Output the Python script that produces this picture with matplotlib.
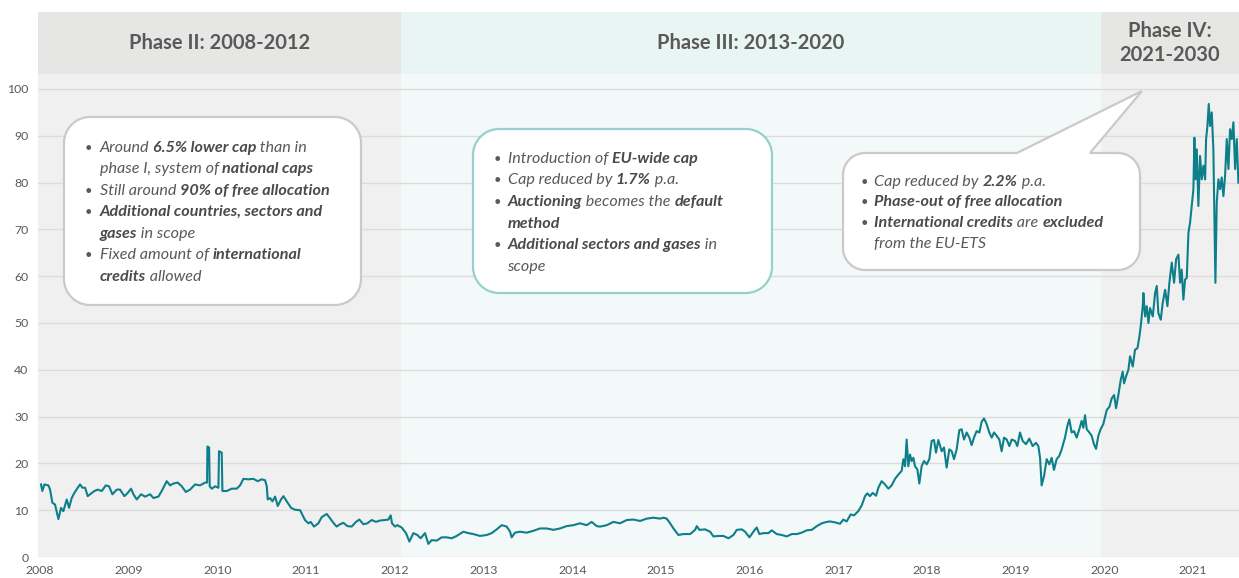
import matplotlib
matplotlib.use("Agg")
import matplotlib.pyplot as plt
from matplotlib.transforms import IdentityTransform
from matplotlib.path import Path
from matplotlib.patches import PathPatch

# ---------------- data ----------------
dates = [
    2008.011, 2008.026, 2008.049, 2008.094, 2008.113, 2008.139, 2008.169, 2008.207, 2008.237, 2008.263,
    2008.301, 2008.327, 2008.357, 2008.387, 2008.425, 2008.451, 2008.478, 2008.508, 2008.538, 2008.564,
    2008.613, 2008.651, 2008.696, 2008.741, 2008.778, 2008.816, 2008.865, 2008.902, 2008.951, 2008.989,
    2009.026, 2009.053, 2009.090, 2009.139, 2009.184, 2009.241, 2009.278, 2009.334, 2009.372, 2009.428,
    2009.466, 2009.504, 2009.552, 2009.598, 2009.643, 2009.691, 2009.748, 2009.804, 2009.861, 2009.883,
    2009.887, 2009.906, 2009.913, 2009.936, 2009.973, 2010.011, 2010.018, 2010.048, 2010.056, 2010.105,
    2010.161, 2010.218, 2010.255, 2010.293, 2010.349, 2010.405, 2010.454, 2010.499, 2010.537, 2010.556,
    2010.567, 2010.593, 2010.620, 2010.650, 2010.680, 2010.717, 2010.744, 2010.781, 2010.830, 2010.875,
    2010.932,
    2010.987, 2011.025, 2011.051, 2011.089, 2011.138, 2011.175, 2011.232, 2011.269, 2011.307, 2011.344,
    2011.382, 2011.420, 2011.465, 2011.513, 2011.562, 2011.600, 2011.645, 2011.690, 2011.739, 2011.788,
    2011.833, 2011.889, 2011.927, 2011.953, 2011.968, 2012.002, 2012.028, 2012.077, 2012.126, 2012.164,
    2012.209, 2012.254, 2012.291, 2012.340, 2012.378, 2012.415, 2012.472, 2012.528, 2012.584, 2012.641,
    2012.697, 2012.772, 2012.829, 2012.885, 2012.960, 2013.035, 2013.092, 2013.148, 2013.205, 2013.261,
    2013.299, 2013.317, 2013.355, 2013.411, 2013.487, 2013.562, 2013.637, 2013.712, 2013.787, 2013.862,
    2013.937, 2014.013, 2014.088, 2014.163, 2014.219, 2014.276,
    2014.314, 2014.389, 2014.464, 2014.539, 2014.614, 2014.690, 2014.765, 2014.840, 2014.915, 2014.990,
    2015.028, 2015.065, 2015.103, 2015.141, 2015.197, 2015.253, 2015.329, 2015.385, 2015.404, 2015.434,
    2015.498, 2015.554, 2015.592, 2015.648, 2015.704, 2015.761, 2015.817, 2015.855, 2015.911, 2015.949,
    2015.998, 2016.042, 2016.080, 2016.110, 2016.155, 2016.212, 2016.249, 2016.306, 2016.362, 2016.418,
    2016.475, 2016.531, 2016.587, 2016.644, 2016.700, 2016.757, 2016.813, 2016.869,
    2016.906, 2016.962, 2017.019, 2017.056, 2017.094, 2017.139, 2017.177, 2017.225, 2017.263, 2017.301,
    2017.327, 2017.357, 2017.387, 2017.425, 2017.451, 2017.488, 2017.526, 2017.564, 2017.601, 2017.639,
    2017.676, 2017.714, 2017.733, 2017.752, 2017.770, 2017.789, 2017.808, 2017.827, 2017.846, 2017.864,
    2017.891, 2017.913, 2017.939, 2017.966, 2017.996, 2018.026, 2018.052, 2018.078, 2018.101, 2018.127,
    2018.165, 2018.191, 2018.221, 2018.251, 2018.278, 2018.304, 2018.334, 2018.364, 2018.390, 2018.417,
    2018.447, 2018.477, 2018.503, 2018.529, 2018.559, 2018.590, 2018.616, 2018.642, 2018.672, 2018.702,
    2018.729, 2018.755, 2018.785, 2018.815, 2018.841, 2018.868, 2018.898, 2018.928, 2018.954, 2018.992,
    2019.018, 2019.048, 2019.078, 2019.116, 2019.153, 2019.191, 2019.228, 2019.255, 2019.274, 2019.292,
    2019.319, 2019.349, 2019.379, 2019.405, 2019.431, 2019.461, 2019.491, 2019.518, 2019.555, 2019.582,
    2019.604, 2019.630, 2019.657, 2019.687, 2019.717, 2019.743, 2019.762, 2019.781, 2019.800, 2019.830,
    2019.856, 2019.882, 2019.905, 2019.931, 2019.957, 2019.987,
    2020.026, 2020.056, 2020.082, 2020.109, 2020.131, 2020.157, 2020.184, 2020.206, 2020.221, 2020.244,
    2020.270, 2020.289, 2020.319, 2020.345, 2020.372, 2020.394, 2020.409, 2020.432, 2020.439, 2020.458,
    2020.477, 2020.496, 2020.514, 2020.545, 2020.571, 2020.590, 2020.608, 2020.635, 2020.657, 2020.684,
    2020.710, 2020.732, 2020.759, 2020.785, 2020.808, 2020.834, 2020.853, 2020.871, 2020.890, 2020.909,
    2020.928, 2020.947, 2020.965, 2020.984, 2021.003, 2021.014, 2021.026, 2021.041, 2021.059, 2021.078,
    2021.097, 2021.116, 2021.135, 2021.146, 2021.161, 2021.176, 2021.191, 2021.210, 2021.228, 2021.240,
    2021.251, 2021.266, 2021.285, 2021.304, 2021.322, 2021.341, 2021.360, 2021.379, 2021.398, 2021.416,
    2021.435, 2021.454, 2021.473, 2021.492, 2021.510,
]
price = [
    15.5, 14.1, 15.5, 15.3, 14.4, 11.6, 11.2, 8.1, 10.5, 9.8,
    12.3, 10.5, 12.6, 13.7, 14.8, 15.5, 14.8, 14.8, 13.0, 13.4,
    14.1, 14.4, 14.1, 15.3, 15.1, 13.4, 14.4, 14.4, 13.0, 13.7,
    14.6, 13.4, 12.3, 13.4, 12.9, 13.4, 12.6, 12.9, 14.1, 16.2,
    15.3, 15.7, 15.9, 15.1, 13.9, 14.4, 15.5, 15.3, 15.9, 15.9,
    23.6, 23.4, 15.1, 14.6, 15.1, 14.8, 22.6, 22.3, 14.1, 14.1,
    14.6, 14.6, 15.3, 16.7, 16.6, 16.7, 16.2, 16.6, 16.4, 15.1,
    12.3, 12.6, 11.9, 12.9, 10.9, 12.3, 13.0, 11.9, 10.5, 10.1,
    10.0,
    7.9, 7.2, 7.5, 6.5, 7.2, 8.5, 9.2, 8.3, 7.3, 6.5,
    7.0, 7.3, 6.6, 6.5, 7.5, 8.0, 7.0, 7.2, 7.9, 7.5,
    7.8, 7.9, 8.0, 8.9, 7.2, 6.5, 6.8, 6.3, 5.1, 3.3,
    5.1, 4.7, 4.0, 5.1, 2.8, 3.6, 3.5, 4.2, 4.2, 4.0,
    4.5, 5.4, 5.1, 4.9, 4.5, 4.7, 5.1, 5.9, 6.8, 6.5,
    5.4, 4.2, 5.2, 5.4, 5.2, 5.6, 6.1, 6.1, 5.8, 6.1,
    6.6, 6.8, 7.2, 6.8, 7.5, 6.6,
    6.5, 6.8, 7.5, 7.2, 7.9, 8.0, 7.7, 8.2, 8.4, 8.2,
    8.4, 8.2, 7.2, 6.1, 4.7, 4.9, 4.9, 5.8, 6.6, 5.8,
    5.9, 5.4, 4.4, 4.5, 4.5, 4.0, 4.7, 5.8, 5.9, 5.4,
    4.2, 5.4, 6.3, 4.9, 5.1, 5.1, 5.7, 4.9, 4.7, 4.4,
    4.9, 4.9, 5.2, 5.7, 5.8, 6.6, 7.2, 7.5,
    7.6, 7.4, 7.1, 8.0, 7.6, 9.1, 8.9, 9.8, 11.0, 13.0,
    13.6, 13.0, 13.7, 13.1, 14.8, 16.2, 15.5, 14.6, 15.3, 16.7,
    17.6, 18.4, 20.9, 19.4, 25.1, 19.4, 21.9, 20.5, 21.2, 19.4,
    18.7, 15.7, 19.4, 20.5, 19.8, 20.9, 24.8, 25.0, 22.3, 25.0,
    22.6, 23.4, 19.1, 23.0, 22.6, 20.9, 23.0, 27.1, 27.3, 25.1,
    26.6, 25.5, 23.9, 25.5, 26.9, 26.6, 28.9, 29.6, 28.4, 26.6,
    25.5, 26.6, 25.9, 25.1, 22.6, 25.5, 25.1, 23.7, 25.1, 24.8,
    23.7, 26.6, 24.8, 24.1, 25.3, 23.7, 24.4, 23.7, 21.2, 15.3,
    17.3, 20.9, 19.8, 21.2, 18.6, 20.9, 21.6, 23.0, 25.5, 28.0,
    29.4, 26.6, 26.9, 25.5, 27.3, 29.1, 27.6, 30.3, 27.3, 26.6,
    25.9, 24.1, 23.1, 25.9, 27.3, 28.4,
    31.4, 32.1, 33.9, 34.6, 31.8, 34.6, 37.9, 39.6, 37.1, 38.6,
    40.0, 42.9, 40.7, 44.3, 44.6, 47.1, 49.3, 53.6, 56.4, 51.4,
    53.6, 50.0, 53.2, 51.4, 56.4, 57.9, 52.1, 50.7, 54.3, 57.1,
    53.6, 58.6, 62.9, 58.6, 63.6, 64.6, 58.6, 61.4, 55.0, 59.3,
    59.6, 69.3, 71.4, 75.0, 78.6, 89.6, 80.7, 87.1, 75.0, 85.7,
    80.7, 83.6, 80.7, 89.3, 92.1, 96.8, 92.1, 95.0, 87.1, 72.9,
    58.6, 75.7, 80.7, 78.6, 81.1, 77.1, 81.4, 89.3, 82.9, 91.4,
    89.3, 92.9, 82.9, 89.3, 80.0,
]

x_ticks = [2008, 2009, 2010, 2011, 2012, 2013, 2014, 2015, 2016, 2017, 2018, 2019, 2020, 2021]
x_tick_labels = [str(v) for v in x_ticks]
y_ticks = [0, 10, 20, 30, 40, 50, 60, 70, 80, 90, 100]

phase_names = ["Phase II: 2008-2012", "Phase III: 2013-2020", "Phase IV:\n2021-2030"]
phase_edges = [2007.977, 2012.07, 2019.96, 2021.517]

box1_lines = [
    (True, [("Around ", False), ("6.5% lower cap", True), (" than in", False)]),
    (False, [("phase I, system of ", False), ("national caps", True)]),
    (True, [("Still around ", False), ("90% of free allocation", True)]),
    (True, [("Additional countries, sectors and", True)]),
    (False, [("gases", True), (" in scope", False)]),
    (True, [("Fixed amount of ", False), ("international", True)]),
    (False, [("credits", True), (" allowed", False)]),
]
box2_lines = [
    (True, [("Introduction of ", False), ("EU-wide cap", True)]),
    (True, [("Cap reduced by ", False), ("1.7%", True), (" p.a.", False)]),
    (True, [("Auctioning", True), (" becomes the ", False), ("default", True)]),
    (False, [("method", True)]),
    (True, [("Additional sectors and gases", True), (" in", False)]),
    (False, [("scope", False)]),
]
box3_lines = [
    (True, [("Cap reduced by ", False), ("2.2%", True), (" p.a.", False)]),
    (True, [("Phase-out of free allocation", True)]),
    (True, [("International credits", True), (" are ", False), ("excluded", True)]),
    (False, [("from the EU-ETS", False)]),
]

# ---------------- styling ----------------
FONT = ["Lato", "DejaVu Sans"]
plt.rcParams["font.family"] = FONT
TXT = "#595959"
LINE = "#0e7f8a"
W, H = 1239, 578

fig = plt.figure(figsize=(W / 100, H / 100), dpi=100)
fig.patch.set_facecolor("white")
AX_L, AX_R, AX_B, AX_T = 38, 1239, 557, 12
ax = fig.add_axes([AX_L / W, (H - AX_B) / H, (AX_R - AX_L) / W, (AX_B - AX_T) / H])
ax.set_xlim(phase_edges[0], phase_edges[-1])
YTOP = 116.45
HEAD = 103.2
ax.set_ylim(0, YTOP)
ax.set_facecolor("white")

body_cols = ["#f0f0f0", "#f3f9f8", "#f0f0f0"]
head_cols = ["#e6e6e5", "#e9f5f2", "#e6e6e5"]
for i in range(3):
    ax.axvspan(phase_edges[i], phase_edges[i + 1], ymin=0, ymax=HEAD / YTOP,
               color=body_cols[i], lw=0, zorder=0)
    ax.axvspan(phase_edges[i], phase_edges[i + 1], ymin=HEAD / YTOP, ymax=1,
               color=head_cols[i], lw=0, zorder=0)
    xc = (phase_edges[i] + phase_edges[i + 1]) / 2
    ax.text(xc, (HEAD + YTOP) / 2, phase_names[i], ha="center", va="center",
            fontsize=14.5, fontweight="bold", color=TXT, linespacing=1.25, zorder=3)

for v in y_ticks:
    ax.axhline(v, color="#dcdcdc", lw=1.0, zorder=1)

ax.plot(dates, price, color=LINE, lw=1.5, zorder=2)

for s in ax.spines.values():
    s.set_visible(False)
ax.set_xticks(x_ticks)
ax.set_xticklabels(x_tick_labels)
ax.set_yticks(y_ticks)
ax.tick_params(axis="both", length=0, labelsize=8.8, labelcolor=TXT)
ax.tick_params(axis="y", pad=7)
ax.tick_params(axis="x", pad=6)

# ---------------- annotation boxes ----------------
K = 0.5523


def box_path(x0, y0, x1, y1, r, pointer=None):
    # image px (y down) -> display (y up)
    X0, X1 = x0, x1
    Yb, Yt = H - y1, H - y0
    c = r * (1 - K)
    verts = [(X0 + r, Yb), (X1 - r, Yb),
             (X1 - c, Yb), (X1, Yb + c), (X1, Yb + r),
             (X1, Yt - r),
             (X1, Yt - c), (X1 - c, Yt), (X1 - r, Yt)]
    codes = [Path.MOVETO, Path.LINETO,
             Path.CURVE4, Path.CURVE4, Path.CURVE4,
             Path.LINETO,
             Path.CURVE4, Path.CURVE4, Path.CURVE4]
    if pointer is not None:
        pa, pb, tip = pointer
        verts += [(pb, Yt), (tip[0], H - tip[1]), (pa, Yt)]
        codes += [Path.LINETO, Path.LINETO, Path.LINETO]
    verts += [(X0 + r, Yt),
              (X0 + c, Yt), (X0, Yt - c), (X0, Yt - r),
              (X0, Yb + r),
              (X0, Yb + c), (X0 + c, Yb), (X0 + r, Yb),
              (X0 + r, Yb)]
    codes += [Path.LINETO,
              Path.CURVE4, Path.CURVE4, Path.CURVE4,
              Path.LINETO,
              Path.CURVE4, Path.CURVE4, Path.CURVE4,
              Path.CLOSEPOLY]
    return Path(verts, codes)


def add_box(x0, y0, x1, y1, r, edge, pointer=None):
    p = PathPatch(box_path(x0, y0, x1, y1, r, pointer), facecolor="white",
                  edgecolor=edge, lw=1.6, transform=IdentityTransform(), zorder=5)
    fig.patches.append(p)


add_box(64, 117, 361, 305, 26, "#cacaca")
add_box(473, 129, 772, 293, 26, "#96d1cb")
add_box(843, 153, 1140, 270, 22, "#cacaca", pointer=(1017, 1090, (1142, 91)))

renderer = fig.canvas.get_renderer()
BOX_FS = 11.6


def seg_width(s, bold):
    kw = dict(fontsize=BOX_FS, style="italic", fontweight="bold" if bold else "normal")
    a = fig.text(0, 0, "|" + s + "|", transform=IdentityTransform(), **kw)
    b = fig.text(0, 0, "||", transform=IdentityTransform(), **kw)
    w = a.get_window_extent(renderer).width - b.get_window_extent(renderer).width
    a.remove()
    b.remove()
    return w


def draw_lines(lines, bullet_x, text_x, first_center, step):
    for i, (bul, segs) in enumerate(lines):
        yb = H - (first_center + i * step + 5)
        if bul:
            fig.text(bullet_x, yb, "•", transform=IdentityTransform(), fontsize=BOX_FS * 0.8,
                     color=TXT, va="baseline", ha="left", zorder=6)
        x = text_x
        for s, bold in segs:
            fig.text(x, yb, s, transform=IdentityTransform(), fontsize=BOX_FS,
                     style="italic", fontweight="bold" if bold else "normal",
                     color="#4a4a4a" if bold else TXT, va="baseline", ha="left", zorder=6)
            x += seg_width(s, bold)


draw_lines(box1_lines, 85, 99.5, 146.7, 21.5)
draw_lines(box2_lines, 493.5, 507.5, 157.7, 21.6)
draw_lines(box3_lines, 861, 874.5, 180.7, 20.7)

fig.savefig("out.png", dpi=100)
